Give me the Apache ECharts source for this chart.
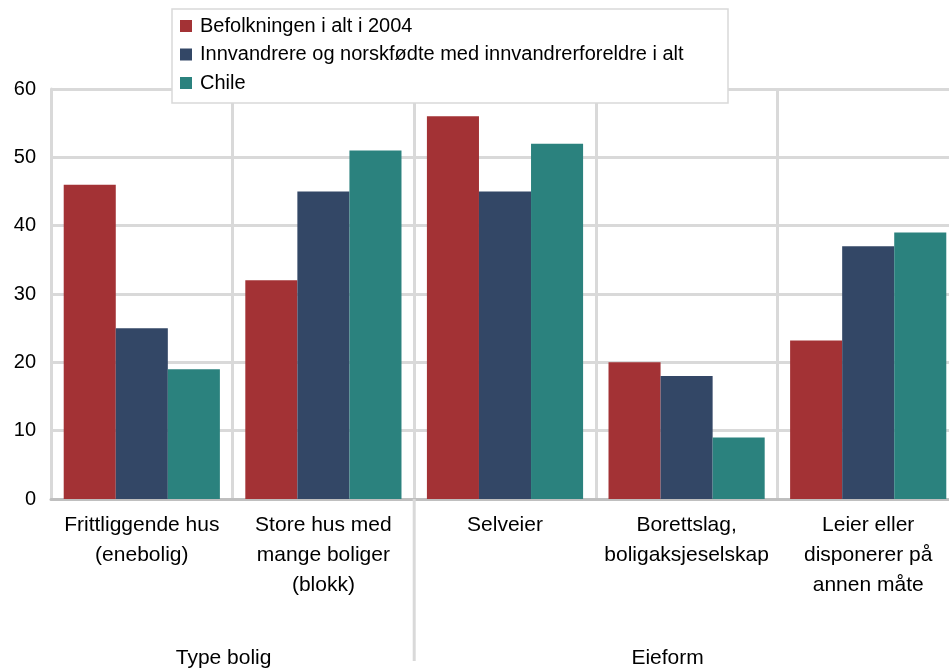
<!DOCTYPE html>
<html><head><meta charset="utf-8">
<script src="https://cdn.jsdelivr.net/npm/echarts@6/dist/echarts.min.js"></script>
<style>html,body{margin:0;padding:0;background:#fff;overflow:hidden}#c{width:960px;height:668px}</style>
</head><body><div id="c"></div>
<script>
var categories = ["Frittliggende hus\n(enebolig)", "Store hus med\nmange boliger\n(blokk)", "Selveier", "Borettslag,\nboligaksjeselskap", "Leier eller\ndisponerer på\nannen måte"];
var seriesNames = ["Befolkningen i alt i 2004", "Innvandrere og norskfødte med innvandrerforeldre i alt", "Chile"];
var befolkningen = [46, 32, 56, 20, 23.2];
var innvandrere = [25, 45, 45, 18, 37];
var chile = [19, 51, 52, 9, 39];
var yTicks = [0, 10, 20, 30, 40, 50, 60];
var groupLabels = ["Type bolig", "Eieform"];

var colors = ["#A33235", "#334766", "#2B827E"];
var font = "'Liberation Sans', Arial, sans-serif";
var chart = echarts.init(document.getElementById('c'), null, {renderer: 'canvas'});
var option = {
  animation: false,
  textStyle: {fontFamily: font},
  grid: {left: 51, top: 89, width: 908, height: 410, containLabel: false},
  legend: {
    orient: 'vertical', left: 172, top: 9,
    itemWidth: 12, itemHeight: 12, itemGap: 8.5,
    padding: [7, 4, 10, 8],
    borderColor: '#d9d9d9', borderWidth: 1.5, backgroundColor: '#fff',
    textStyle: {fontSize: 20, lineHeight: 20, color: '#000', fontFamily: font, padding: [0,0,0,3], width: 524, overflow: 'none'},
    icon: 'rect',
    data: seriesNames
  },
  xAxis: {
    type: 'category', data: categories,
    axisLine: {lineStyle: {color: '#bfbfbf', width: 3}},
    axisTick: {show: false},
    splitLine: {show: true, lineStyle: {color: '#d9d9d9', width: 3}},
    axisLabel: {fontSize: 21, color: '#000', lineHeight: 30, margin: 11, interval: 0, fontFamily: font}
  },
  yAxis: {
    type: 'value', min: 0, max: 60, interval: 10,
    axisLine: {show: true, lineStyle: {color: '#d9d9d9', width: 3}},
    axisTick: {show: false},
    splitLine: {lineStyle: {color: '#d9d9d9', width: 3}},
    axisLabel: {fontSize: 20, color: '#000', margin: 15, fontFamily: font,
      formatter: function(v){ return yTicks.indexOf(v) >= 0 ? String(v) : ''; }}
  },
  series: [
    {name: seriesNames[0], type: 'bar', data: befolkningen, itemStyle: {color: colors[0]}, barGap: 0, barCategoryGap: '14%'},
    {name: seriesNames[1], type: 'bar', data: innvandrere, itemStyle: {color: colors[1]}, barGap: 0, barCategoryGap: '14%'},
    {name: seriesNames[2], type: 'bar', data: chile, itemStyle: {color: colors[2]}, barGap: 0, barCategoryGap: '14%'}
  ]
};
chart.setOption(option);
// group separator & labels computed from axis scale
var c0 = chart.convertToPixel({xAxisIndex: 0}, categories[0]);
var c1 = chart.convertToPixel({xAxisIndex: 0}, categories[1]);
var c2 = chart.convertToPixel({xAxisIndex: 0}, categories[2]);
var c3 = chart.convertToPixel({xAxisIndex: 0}, categories[3]);
var sepX = (c1 + c2) / 2;
var y0 = chart.convertToPixel({yAxisIndex: 0}, 0);
chart.setOption({
  graphic: [
    {type: 'line', shape: {x1: sepX, y1: y0, x2: sepX, y2: 661}, style: {stroke: '#d9d9d9', lineWidth: 3}, z: 1},
    {type: 'text', x: (c0 + c1) / 2 - 9, y: 658, style: {text: groupLabels[0], fill: '#000', font: '21px ' + font, textAlign: 'center', textVerticalAlign: 'middle'}},
    {type: 'text', x: c3 - 19, y: 658, style: {text: groupLabels[1], fill: '#000', font: '21px ' + font, textAlign: 'center', textVerticalAlign: 'middle'}}
  ]
});
</script></body></html>
